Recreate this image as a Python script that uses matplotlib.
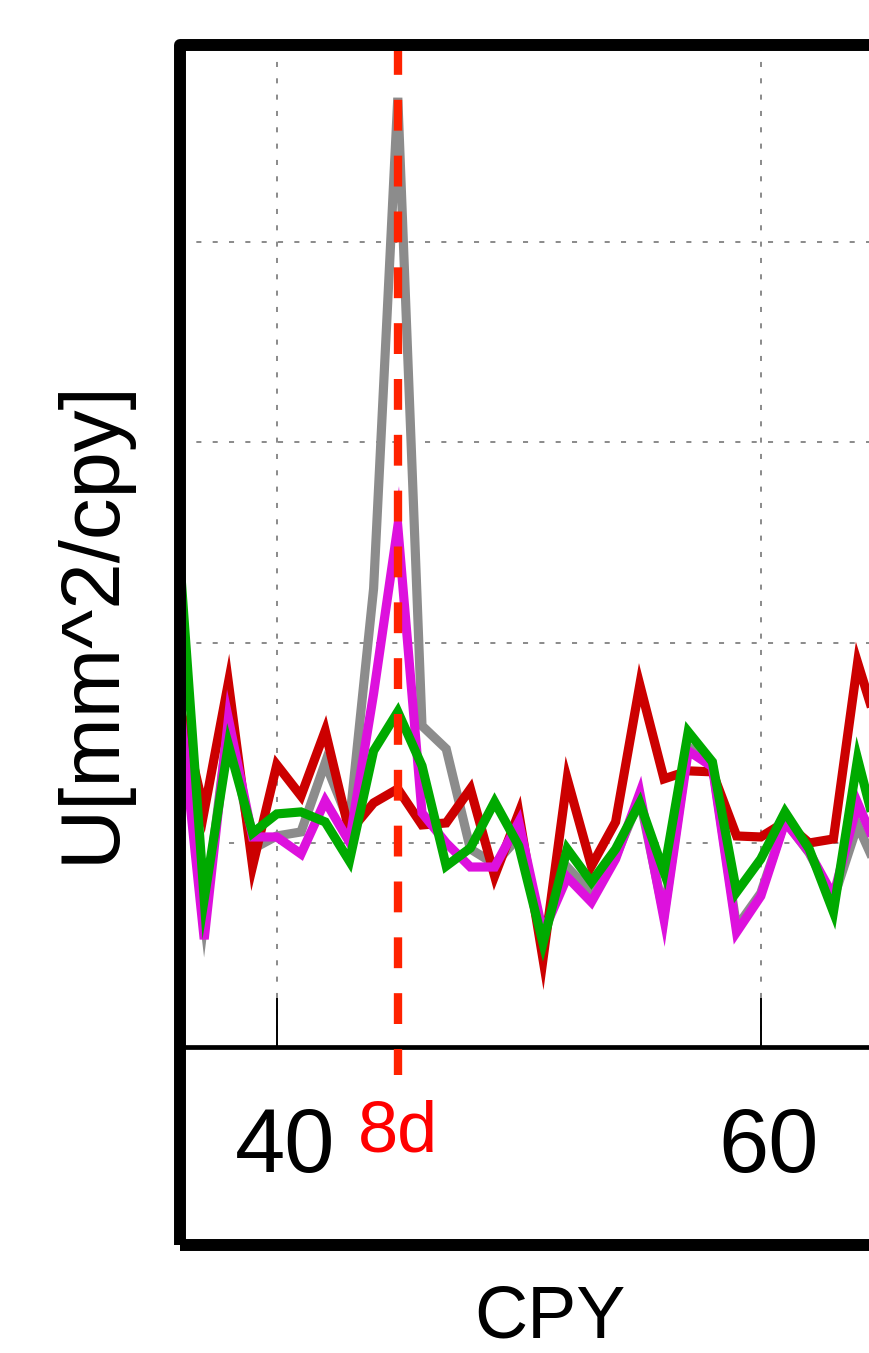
import matplotlib
matplotlib.use("Agg")
import matplotlib.pyplot as plt
from matplotlib.patches import Rectangle
from matplotlib.transforms import ScaledTranslation

plt.rcParams['font.family'] = ['Liberation Sans', 'DejaVu Sans']

# frequency in cycles per year, one value per integer cpy
cpy = list(range(36, 66))

red = [1.68, 1.16, 1.80, 0.885, 1.39, 1.235, 1.56, 1.055, 1.2, 1.27,
       1.09, 1.10, 1.27, 0.835, 1.15, 0.42, 1.32, 0.885, 1.105, 1.79,
       1.32, 1.36, 1.355, 1.035, 1.03, 1.105, 1.0, 1.02, 1.9, 1.51]
grey = [1.65, 0.62, 1.6, 0.97, 1.035, 1.055, 1.40, 1.1, 2.27, 4.72,
        1.585, 1.47, 0.97, 0.895, 1.03, 0.55, 0.88, 0.75, 0.93, 1.22,
        0.64, 1.48, 1.39, 0.58, 0.75, 1.11, 0.95, 0.72, 1.09, 0.82]
magenta = [1.68, 0.52, 1.62, 1.03, 1.03, 0.945, 1.21, 1.005, 1.745, 2.58,
           1.15, 1.0, 0.88, 0.88, 1.105, 0.55, 0.83, 0.705, 0.92, 1.25,
           0.62, 1.46, 1.38, 0.555, 0.735, 1.105, 0.955, 0.735, 1.2, 0.92]
green = [2.4, 0.72, 1.49, 1.05, 1.145, 1.155, 1.105, 0.91, 1.46, 1.655,
         1.385, 0.885, 0.975, 1.205, 0.985, 0.5, 0.97, 0.805, 0.97, 1.2,
         0.855, 1.555, 1.405, 0.755, 0.92, 1.155, 0.97, 0.655, 1.42, 0.95]

xticks = [40, 60]
yticks = [1, 2, 3, 4]
mark_x = 45       # 8 day period
mark_label = '8d'

W, H = 869, 1353
fig = plt.figure(figsize=(W / 100, H / 100), dpi=100)


def fx(px):
    return px / W


def fy(py):
    return 1 - py / H


# main plotting area (extends past the right edge, like the crop)
ax = fig.add_axes([fx(180), fy(1046.5), fx(906) - fx(180), fy(44.5) - fy(1046.5)])
ax.set_xlim(36, 66)
ax.set_ylim(-0.016, 4.986)

series = [(grey, '#8c8c8c'), (red, '#cc0000'), (magenta, '#dd11dd'), (green, '#00aa00')]
for vals, col in series:
    ax.plot(cpy, vals, color=col, lw=6.6, solid_joinstyle='miter', zorder=3)

# 8d marker line, runs a little below the axis
ax.plot([mark_x, mark_x], [4.986, -0.158], color='#ff2200', lw=6.0,
        linestyle=(0, (3.7, 3.0)), clip_on=False, zorder=5)
ax.text(mark_x, -0.5426, mark_label, color='#ff0000', fontsize=52,
        ha='center', va='baseline')

ax.set_xticks(xticks)
ax.set_yticks(yticks)
ax.grid(True, color='#8a8a8a', lw=1.4, linestyle=(0, (2.6, 5.8)))
ax.tick_params(axis='x', direction='in', length=35, width=1.4, pad=43,
               labelsize=65)
ax.tick_params(axis='y', length=0, labelleft=False)
for s in ['top', 'left', 'right']:
    ax.spines[s].set_visible(False)
ax.spines['bottom'].set_linewidth(3.4)

for lbl in ax.get_xticklabels():
    lbl.set_transform(lbl.get_transform() + ScaledTranslation(8 / 100, 0, fig.dpi_scale_trans))

# thick outer frame around plot + tick label area
fig.add_artist(Rectangle((fx(179.5), fy(1244.5)), fx(980) - fx(179.5), fy(44.5) - fy(1244.5),
                         transform=fig.transFigure, fill=False, lw=8.6, ec='black',
                         joinstyle='round', zorder=10))

fig.text(fx(92), fy(621), 'U[mm^2/cpy]', rotation=90, fontsize=60,
         ha='center', va='center')
fig.text(fx(550), fy(1337), 'CPY', fontsize=53, ha='center', va='baseline')

fig.savefig('out.png', dpi=100)
